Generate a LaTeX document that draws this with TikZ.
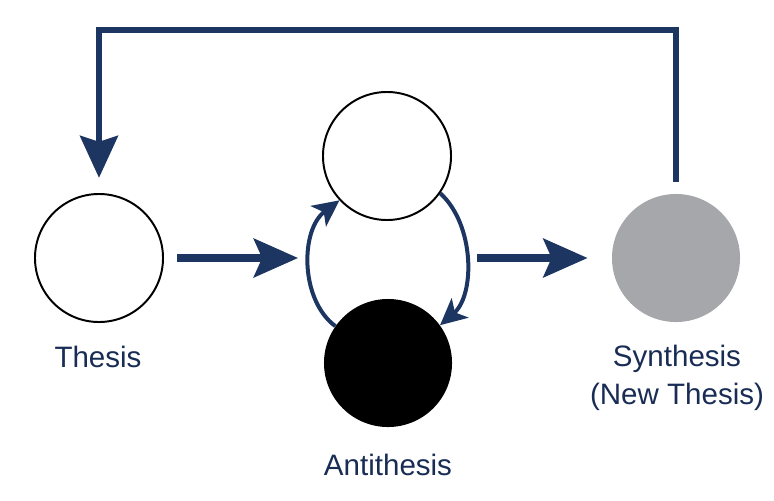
\documentclass[tikz,border=0pt]{standalone}
\usepackage{fontspec}
\setmainfont{Liberation Sans}
\usetikzlibrary{arrows.meta}
\definecolor{navy}{RGB}{29,53,97}
\definecolor{inknavy}{RGB}{24,44,84}
\definecolor{synthgray}{RGB}{165,167,170}
\begin{document}
\begin{tikzpicture}[
x=0.025cm, y=-0.025cm,
stage/.style={circle, minimum size=3.2cm, inner sep=0pt},
open/.style={stage, draw=black, line width=1.4pt, fill=white},
caption/.style={text=inknavy, font=\fontsize{21}{27}\selectfont, inner sep=0pt},
flow/.style={draw=navy, line width=0.22cm, -{Stealth[length=1.1cm, width=0.95cm, inset=0.2cm]}},
back/.style={draw=navy, line width=0.13cm, -{Stealth[length=1.05cm, width=0.95cm, inset=0.15cm]}},
turn/.style={draw=navy, line width=0.1cm, -{Stealth[length=0.66cm, width=0.64cm, inset=0.17cm]}}
]
\useasboundingbox (0,0) rectangle (774,500);
% stages
\node[open] (thesis) at (99,258) {};
\node[open] (mid) at (387,156) {};
\node[stage, fill=black] (anti) at (388,363) {};
\node[stage, fill=synthgray] (synth) at (676,258) {};
% captions
\node[caption, anchor=base] (thesislbl) at (98,367) {Thesis};
\node[caption, anchor=base] (antilbl) at (388,475) {Antithesis};
\node[caption, anchor=north, align=center] (synthlbl) at (677,345) {Synthesis\\(New Thesis)};
% helper points
\coordinate (cycW) at (307,258);
\coordinate (cycE) at (467,258);
\coordinate (loopTop) at (386,30);
% main flow
\draw[flow] ([xshift=0.33cm]thesis.east) -- ([xshift=-0.22cm]cycW);
\draw[flow] ([xshift=0.25cm]cycE) -- ([xshift=-0.6cm]synth.west);
% inner cycle
\draw[turn] (anti.145) .. controls (300,300) and (300,230) .. (mid.223);
\draw[turn] (mid.325) .. controls (475,225) and (475,295) .. (anti.36);
% feedback loop
\draw[back, shorten <=0.3cm, shorten >=0.38cm] (synth.north) |- (loopTop) -| (thesis.north);
\end{tikzpicture}
\end{document}
